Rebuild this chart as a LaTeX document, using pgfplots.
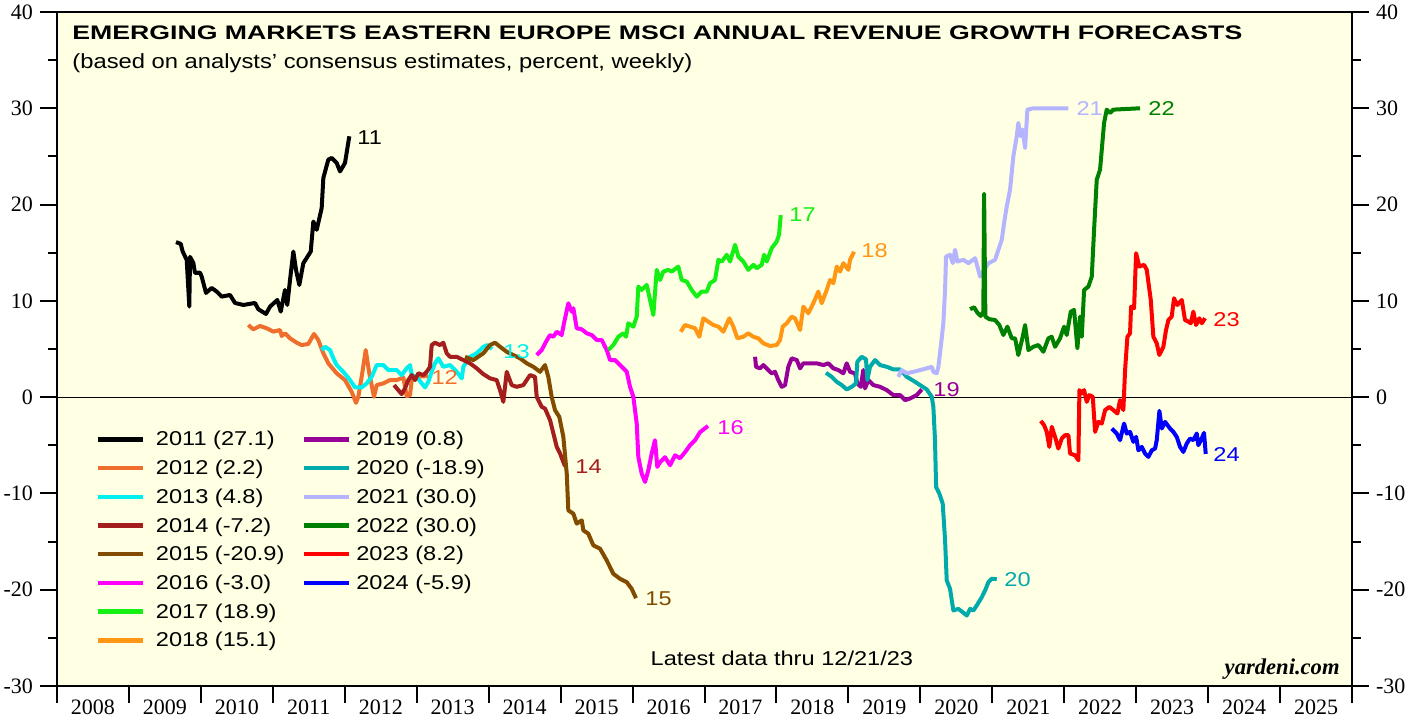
\documentclass[border=0pt]{standalone}
\usepackage{fontspec}
\setmainfont{Liberation Serif}
\newfontfamily\ar[FakeStretch=1.18]{Liberation Sans}
\newfontfamily\artitle[FakeStretch=1.36]{Liberation Sans}
\newfontfamily\arsub[FakeStretch=1.16]{Liberation Sans}
\usepackage{pgfplots}
\pgfplotsset{compat=1.18}
\definecolor{bg}{RGB}{255,255,228}
\definecolor{c11}{RGB}{0,0,0}
\definecolor{c12}{RGB}{240,110,45}
\definecolor{c13}{RGB}{0,240,240}
\definecolor{c14}{RGB}{165,30,30}
\definecolor{c15}{RGB}{130,75,0}
\definecolor{c16}{RGB}{255,0,255}
\definecolor{c17}{RGB}{20,240,20}
\definecolor{c18}{RGB}{255,150,20}
\definecolor{c19}{RGB}{150,0,150}
\definecolor{c20}{RGB}{0,170,170}
\definecolor{c21}{RGB}{180,180,255}
\definecolor{c22}{RGB}{0,128,0}
\definecolor{c23}{RGB}{255,0,0}
\definecolor{c24}{RGB}{0,0,255}
\newcommand{\legbox}[1]{\makebox[67.5pt][l]{#1}}
\newcommand{\legtwo}[1]{\hspace*{-3pt}#1}
\pgfplotsset{
  common/.style={
    scale only axis, width=647.5pt, height=337pt,
    xmin=2008, xmax=2026, ymin=-30, ymax=40,
    axis line style={line width=1.3pt},
    tick align=outside, major tick length=8.5pt, minor tick length=4.5pt,
    every tick/.style={black, line width=1pt},
    ytick={-30,-20,-10,0,10,20,30,40},
    yticklabels={-30,-20,-10,0,10,20,30,40},
    minor ytick={-25,-15,-5,5,15,25,35},
    ticklabel style={font=\fontsize{11}{11}\selectfont},
    /pgf/number format/assume math mode=true,
  },
  ser/.style={line width=2pt, line join=round, forget plot},
}
\begin{document}
\begin{tikzpicture}
\begin{axis}[common, name=main,
  axis background/.style={fill=bg},
  xtick={2008,2009,2010,2011,2012,2013,2014,2015,2016,2017,2018,2019,2020,2021,2022,2023,2024,2025,2026},
  xticklabels={2008,2009,2010,2011,2012,2013,2014,2015,2016,2017,2018,2019,2020,2021,2022,2023,2024,2025},
  x tick label as interval, xtick pos=left,
  xticklabel style={yshift=5pt},
  ytick pos=left, yticklabel pos=left,
  legend columns=2,
  legend style={at={(axis cs:2008.53,-3.16)}, anchor=north west, draw=none, fill=none,
    inner sep=0pt, row sep=2.85pt, column sep=5.5pt,
    font=\ar\fontsize{10}{10}\selectfont,
    nodes={inner sep=0pt, text height=9pt, text depth=2.5pt},
    cells={anchor=west}},
  legend image code/.code={\draw[#1, line width=2.2pt] (0pt,0pt) -- (22.5pt,0pt);},
]
\addplot[black, line width=0.5pt, forget plot] coordinates {(2008,0) (2026,0)};

% 2011
\addplot[ser, c11] coordinates {(2009.654,16.10)(2009.720,15.92)(2009.747,15.12)(2009.803,14.26)(2009.839,9.40)(2009.849,14.57)(2009.895,13.94)(2009.918,12.90)(2009.988,12.93)(2010.011,12.52)(2010.071,10.82)(2010.150,11.34)(2010.220,10.96)(2010.289,10.44)(2010.405,10.61)(2010.474,9.78)(2010.590,9.57)(2010.752,9.78)(2010.798,9.13)(2010.905,8.64)(2010.961,9.40)(2011.062,10.09)(2011.110,8.88)(2011.169,11.13)(2011.201,9.57)(2011.239,12.17)(2011.285,15.12)(2011.322,13.22)(2011.368,11.65)(2011.424,13.91)(2011.527,15.12)(2011.563,18.24)(2011.610,17.38)(2011.679,19.64)(2011.702,22.76)(2011.771,24.66)(2011.818,24.84)(2011.888,24.32)(2011.934,23.44)(2012.003,24.32)(2012.063,27.09)};
% 2012
\addplot[ser, c12] coordinates {(2010.659,7.49)(2010.729,7.04)(2010.822,7.39)(2010.915,7.15)(2011.007,6.80)(2011.100,6.97)(2011.123,6.35)(2011.169,6.63)(2011.239,6.11)(2011.332,5.65)(2011.401,5.41)(2011.493,5.52)(2011.572,6.56)(2011.632,5.93)(2011.702,4.55)(2011.771,3.51)(2011.888,2.47)(2012.003,1.77)(2012.096,0.55)(2012.156,-0.59)(2012.188,0.03)(2012.235,2.11)(2012.291,4.89)(2012.341,2.47)(2012.406,0.03)(2012.444,1.25)(2012.536,1.43)(2012.629,1.77)(2012.722,1.77)(2012.814,2.05)(2012.861,0.10)(2012.907,0.21)(2012.931,1.77)(2012.976,2.11)(2013.157,2.19)};
% 2013
\addplot[ser, c13] coordinates {(2011.679,4.89)(2011.725,5.23)(2011.795,4.89)(2011.841,4.03)(2011.888,3.33)(2011.980,2.63)(2012.073,1.77)(2012.142,1.01)(2012.235,1.01)(2012.305,1.43)(2012.374,2.11)(2012.444,3.33)(2012.536,3.33)(2012.605,2.81)(2012.722,2.81)(2012.791,2.29)(2012.861,2.99)(2012.907,3.33)(2012.931,2.29)(2013.000,2.11)(2013.069,1.43)(2013.115,1.01)(2013.161,1.59)(2013.208,2.63)(2013.254,3.51)(2013.300,4.03)(2013.370,3.15)(2013.463,3.33)(2013.556,2.63)(2013.626,1.95)(2013.648,3.15)(2013.741,4.19)(2013.834,4.55)(2013.926,5.23)(2013.981,5.41)(2014.047,4.99)};
% 2014
\addplot[ser, c14] coordinates {(2012.685,1.25)(2012.744,0.73)(2012.791,0.31)(2012.837,0.91)(2012.883,1.77)(2012.931,2.29)(2012.976,1.77)(2013.022,2.47)(2013.092,2.29)(2013.139,2.63)(2013.185,3.15)(2013.208,5.41)(2013.254,5.65)(2013.324,5.41)(2013.370,5.65)(2013.417,4.55)(2013.463,4.19)(2013.556,4.19)(2013.648,3.85)(2013.741,3.51)(2013.834,2.99)(2013.926,2.39)(2014.019,1.95)(2014.112,1.77)(2014.158,0.73)(2014.204,-0.49)(2014.251,2.63)(2014.320,1.25)(2014.390,1.07)(2014.482,1.25)(2014.575,2.29)(2014.644,2.11)(2014.668,0.03)(2014.737,-1.01)(2014.783,-1.18)(2014.853,-2.39)(2014.946,-5.17)(2014.992,-5.86)(2015.061,-7.18)};
% 2015
\addplot[ser, c15] coordinates {(2013.671,4.19)(2013.787,3.85)(2013.926,4.55)(2014.019,5.41)(2014.088,5.65)(2014.158,5.23)(2014.251,4.71)(2014.343,4.37)(2014.436,4.03)(2014.529,3.51)(2014.621,3.15)(2014.714,2.63)(2014.783,3.33)(2014.829,2.11)(2014.876,0.03)(2014.922,-1.35)(2014.982,-2.05)(2015.038,-4.13)(2015.085,-7.94)(2015.107,-11.76)(2015.177,-12.10)(2015.224,-13.14)(2015.294,-12.80)(2015.316,-13.84)(2015.385,-14.18)(2015.455,-15.40)(2015.548,-15.74)(2015.641,-16.96)(2015.733,-18.35)(2015.826,-18.87)(2015.919,-19.22)(2015.988,-19.91)(2016.048,-20.88)};
% 2016
\addplot[ser, c16] coordinates {(2014.668,4.37)(2014.737,4.89)(2014.797,5.75)(2014.853,6.45)(2014.899,6.27)(2014.946,6.79)(2015.015,6.45)(2015.047,7.67)(2015.107,9.75)(2015.155,8.88)(2015.177,9.23)(2015.224,7.15)(2015.294,7.04)(2015.363,6.63)(2015.432,6.45)(2015.502,5.93)(2015.572,5.93)(2015.641,4.89)(2015.687,3.85)(2015.756,3.85)(2015.826,3.33)(2015.919,2.63)(2015.965,1.07)(2016.011,0.03)(2016.058,-2.74)(2016.080,-6.21)(2016.127,-7.94)(2016.174,-8.81)(2016.219,-7.60)(2016.266,-5.86)(2016.312,-4.47)(2016.344,-7.25)(2016.382,-6.76)(2016.451,-6.24)(2016.521,-7.08)(2016.590,-6.04)(2016.660,-6.35)(2016.729,-5.72)(2016.799,-4.99)(2016.869,-4.47)(2016.938,-3.64)(2017.008,-3.23)(2017.049,-3.00)};
% 2017
\addplot[ser, c17] coordinates {(2015.663,4.89)(2015.733,5.41)(2015.802,6.27)(2015.872,6.63)(2015.909,6.27)(2015.941,7.67)(2016.011,7.32)(2016.058,8.36)(2016.080,11.48)(2016.127,11.13)(2016.197,11.65)(2016.243,10.09)(2016.289,8.53)(2016.336,13.22)(2016.382,12.17)(2016.428,13.04)(2016.497,13.22)(2016.545,13.04)(2016.636,13.56)(2016.683,12.17)(2016.753,12.00)(2016.822,11.13)(2016.892,10.44)(2016.961,10.96)(2017.031,10.96)(2017.077,11.83)(2017.146,12.17)(2017.193,14.26)(2017.240,14.08)(2017.309,14.78)(2017.355,14.08)(2017.425,15.82)(2017.470,14.60)(2017.540,14.08)(2017.609,13.22)(2017.679,13.74)(2017.726,13.39)(2017.795,13.74)(2017.828,14.78)(2017.865,14.08)(2017.934,15.47)(2018.004,16.16)(2018.036,16.86)(2018.060,18.90)};
% 2018
\addplot[ser, c18] coordinates {(2016.670,6.79)(2016.729,7.49)(2016.799,7.32)(2016.869,7.15)(2016.928,6.27)(2016.984,8.19)(2017.053,7.84)(2017.123,7.49)(2017.193,7.32)(2017.262,6.79)(2017.345,8.19)(2017.401,7.32)(2017.457,6.11)(2017.540,6.27)(2017.609,6.63)(2017.679,6.27)(2017.748,6.11)(2017.818,5.59)(2017.911,5.31)(2018.004,5.41)(2018.050,5.93)(2018.087,7.32)(2018.143,7.67)(2018.212,8.36)(2018.258,8.19)(2018.328,6.97)(2018.374,9.40)(2018.443,8.71)(2018.513,9.75)(2018.582,10.96)(2018.629,9.75)(2018.699,11.13)(2018.745,12.17)(2018.791,11.83)(2018.838,13.56)(2018.884,13.04)(2018.930,13.91)(2019.000,13.22)(2019.023,14.26)(2019.079,15.10)};
% 2019
\addplot[ser, c19] coordinates {(2017.703,4.19)(2017.716,3.15)(2017.772,2.99)(2017.818,3.33)(2017.887,2.81)(2017.934,2.47)(2017.980,2.63)(2018.026,1.77)(2018.073,1.07)(2018.120,1.25)(2018.165,3.15)(2018.212,4.03)(2018.282,3.85)(2018.328,2.99)(2018.374,3.51)(2018.467,3.51)(2018.560,3.51)(2018.652,3.33)(2018.721,3.51)(2018.791,2.99)(2018.861,2.81)(2018.930,2.47)(2018.977,3.51)(2019.023,2.63)(2019.092,2.47)(2019.124,1.43)(2019.172,1.07)(2019.207,2.81)(2019.231,0.91)(2019.277,1.77)(2019.347,1.25)(2019.440,1.07)(2019.533,0.73)(2019.625,0.21)(2019.718,0.21)(2019.788,-0.31)(2019.857,-0.14)(2019.950,0.21)(2020.020,0.80)};
% 2020
\addplot[ser, c20] coordinates {(2018.689,2.53)(2018.768,2.11)(2018.838,1.59)(2018.908,1.25)(2018.977,0.80)(2019.047,1.07)(2019.106,1.43)(2019.124,3.67)(2019.185,4.19)(2019.245,3.92)(2019.263,1.77)(2019.301,3.15)(2019.370,3.85)(2019.440,3.33)(2019.533,3.15)(2019.625,2.88)(2019.718,2.88)(2019.811,2.11)(2019.903,1.70)(2019.996,1.25)(2020.089,0.80)(2020.159,0.03)(2020.181,-1.01)(2020.204,-4.47)(2020.219,-9.33)(2020.264,-10.02)(2020.311,-11.06)(2020.344,-14.88)(2020.367,-19.04)(2020.413,-19.91)(2020.459,-22.16)(2020.529,-21.99)(2020.590,-22.34)(2020.646,-22.68)(2020.691,-21.99)(2020.737,-22.16)(2020.784,-21.64)(2020.854,-20.78)(2020.900,-20.08)(2020.946,-19.22)(2020.993,-18.86)(2021.062,-18.90)};
% 2021
\addplot[ser, c21] coordinates {(2019.694,2.11)(2019.741,2.81)(2019.811,2.47)(2019.903,2.63)(2019.996,2.81)(2020.089,2.99)(2020.159,3.15)(2020.181,2.63)(2020.228,2.47)(2020.251,3.15)(2020.284,5.23)(2020.320,7.67)(2020.344,11.13)(2020.357,14.60)(2020.413,14.78)(2020.451,13.91)(2020.483,15.30)(2020.515,14.08)(2020.598,14.26)(2020.668,13.91)(2020.761,14.43)(2020.793,13.56)(2020.830,12.52)(2020.946,13.91)(2021.039,14.26)(2021.085,15.30)(2021.132,16.34)(2021.164,18.07)(2021.201,19.80)(2021.247,21.54)(2021.293,25.01)(2021.340,27.09)(2021.362,28.48)(2021.396,27.09)(2021.423,27.78)(2021.456,25.88)(2021.488,29.86)(2021.571,30.00)(2022.057,30.00)};
% 2022
\addplot[ser, c22] coordinates {(2020.691,9.13)(2020.747,9.33)(2020.793,8.77)(2020.840,8.43)(2020.876,8.88)(2020.886,21.12)(2020.904,8.36)(2020.960,8.09)(2021.039,8.01)(2021.098,7.49)(2021.154,6.45)(2021.210,7.32)(2021.271,6.11)(2021.317,6.11)(2021.362,4.37)(2021.423,6.27)(2021.456,7.49)(2021.502,4.89)(2021.571,5.23)(2021.641,5.41)(2021.710,4.71)(2021.780,6.11)(2021.826,6.27)(2021.873,5.23)(2021.942,6.11)(2021.998,7.32)(2022.035,6.45)(2022.091,8.88)(2022.137,9.05)(2022.183,5.07)(2022.220,8.36)(2022.244,6.27)(2022.276,11.13)(2022.336,11.48)(2022.383,12.52)(2022.415,17.38)(2022.452,22.58)(2022.498,23.62)(2022.522,25.70)(2022.554,28.48)(2022.591,29.86)(2022.637,29.52)(2022.683,29.86)(2023.054,30.00)};
% 2023
\addplot[ser, c23] coordinates {(2021.674,-2.47)(2021.720,-2.91)(2021.757,-3.61)(2021.793,-5.17)(2021.827,-3.09)(2021.873,-4.13)(2021.918,-5.34)(2021.966,-4.30)(2022.012,-3.95)(2022.058,-3.95)(2022.081,-5.86)(2022.151,-6.04)(2022.197,-6.56)(2022.211,0.73)(2022.244,0.39)(2022.276,0.73)(2022.313,-0.49)(2022.349,0.21)(2022.397,0.03)(2022.429,-3.61)(2022.475,-2.57)(2022.522,-2.74)(2022.568,-1.35)(2022.627,-1.01)(2022.683,-1.35)(2022.739,-1.70)(2022.776,-0.31)(2022.822,-1.35)(2022.846,2.81)(2022.878,6.27)(2022.915,6.63)(2022.929,9.40)(2022.971,9.23)(2022.999,14.95)(2023.044,13.56)(2023.110,13.74)(2023.147,13.22)(2023.203,10.09)(2023.239,6.27)(2023.286,5.59)(2023.322,4.37)(2023.378,5.23)(2023.415,6.97)(2023.448,8.01)(2023.494,8.36)(2023.526,10.27)(2023.572,9.57)(2023.634,10.09)(2023.679,8.01)(2023.725,7.84)(2023.759,7.67)(2023.795,8.88)(2023.832,7.49)(2023.878,8.19)(2023.912,7.67)(2023.958,8.20)};
% 2024
\addplot[ser, c24] coordinates {(2022.661,-3.26)(2022.730,-3.78)(2022.776,-4.47)(2022.832,-2.74)(2022.869,-3.78)(2022.915,-3.61)(2022.961,-4.65)(2022.999,-4.13)(2023.031,-5.52)(2023.078,-5.17)(2023.124,-5.86)(2023.170,-6.21)(2023.217,-5.52)(2023.263,-5.34)(2023.286,-4.47)(2023.323,-1.43)(2023.356,-3.26)(2023.402,-2.57)(2023.471,-3.26)(2023.517,-3.61)(2023.564,-4.13)(2023.610,-5.17)(2023.656,-5.69)(2023.703,-4.82)(2023.749,-4.30)(2023.795,-4.47)(2023.842,-3.78)(2023.864,-4.99)(2023.911,-4.30)(2023.943,-3.71)(2023.967,-5.90)};

% legend (row-wise: left column 2011-2018, right column 2019-2024)
\addlegendimage{c11}\addlegendentry{\legbox{2011 (27.1)}}
\addlegendimage{c19}\addlegendentry{\legtwo{2019 (0.8)}}
\addlegendimage{c12}\addlegendentry{\legbox{2012 (2.2)}}
\addlegendimage{c20}\addlegendentry{\legtwo{2020 (-18.9)}}
\addlegendimage{c13}\addlegendentry{\legbox{2013 (4.8)}}
\addlegendimage{c21}\addlegendentry{\legtwo{2021 (30.0)}}
\addlegendimage{c14}\addlegendentry{\legbox{2014 (-7.2)}}
\addlegendimage{c22}\addlegendentry{\legtwo{2022 (30.0)}}
\addlegendimage{c15}\addlegendentry{\legbox{2015 (-20.9)}}
\addlegendimage{c23}\addlegendentry{\legtwo{2023 (8.2)}}
\addlegendimage{c16}\addlegendentry{\legbox{2016 (-3.0)}}
\addlegendimage{c24}\addlegendentry{\legtwo{2024 (-5.9)}}
\addlegendimage{c17}\addlegendentry{\legbox{2017 (18.9)}}
\addlegendimage{opacity=0}\addlegendentry{}
\addlegendimage{c18}\addlegendentry{\legbox{2018 (15.1)}}
\addlegendimage{opacity=0}\addlegendentry{}

% end labels
\begin{scope}[every node/.style={anchor=west, inner sep=0pt, font=\ar\fontsize{10}{10}\selectfont}]
\node[text=c11] at (axis cs:2012.170,26.95) {11};
\node[text=c12] at (axis cs:2013.200,2.01) {12};
\node[text=c13] at (axis cs:2014.200,4.71) {13};
\node[text=c14] at (axis cs:2015.200,-7.18) {14};
\node[text=c15] at (axis cs:2016.173,-20.91) {15};
\node[text=c16] at (axis cs:2017.174,-3.12) {16};
\node[text=c17] at (axis cs:2018.175,18.94) {17};
\node[text=c18] at (axis cs:2019.176,15.19) {18};
\node[text=c19] at (axis cs:2020.177,0.73) {19};
\node[text=c20] at (axis cs:2021.164,-18.94) {20};
\node[text=c21] at (axis cs:2022.165,29.97) {21};
\node[text=c22] at (axis cs:2023.165,29.97) {22};
\node[text=c23] at (axis cs:2024.069,8.01) {23};
\node[text=c24] at (axis cs:2024.069,-5.93) {24};
\end{scope}

% titles and notes
\node[anchor=base west, inner sep=0pt, xshift=7.5pt, yshift=-13.65pt, font=\artitle\bfseries\fontsize{9.8}{10}\selectfont] at (rel axis cs:0,1) {EMERGING MARKETS EASTERN EUROPE MSCI ANNUAL REVENUE GROWTH FORECASTS};
\node[anchor=base west, inner sep=0pt, xshift=7.5pt, yshift=-28.15pt, font=\arsub\fontsize{10.25}{11}\selectfont] at (rel axis cs:0,1) {(based on analysts’ consensus estimates, percent, weekly)};
\node[anchor=base, inner sep=0pt, yshift=10pt, font=\ar\fontsize{10}{10}\selectfont] at (rel axis cs:0.5598,0) {Latest data thru 12/21/23};
\node[anchor=base east, inner sep=0pt, xshift=-6pt, yshift=5.5pt, font=\bfseries\itshape\fontsize{11.3}{12}\selectfont] at (rel axis cs:1,0) {yardeni.com};
\end{axis}

\begin{axis}[common, at={(main.south west)}, anchor=south west,
  xtick=\empty, ytick pos=right, yticklabel pos=right]
\end{axis}

\pgfresetboundingbox
\path ([shift={(-28.5pt,-15.5pt)}]main.south west) rectangle ([shift={(33.5pt,6pt)}]main.north east);
\end{tikzpicture}
\end{document}
